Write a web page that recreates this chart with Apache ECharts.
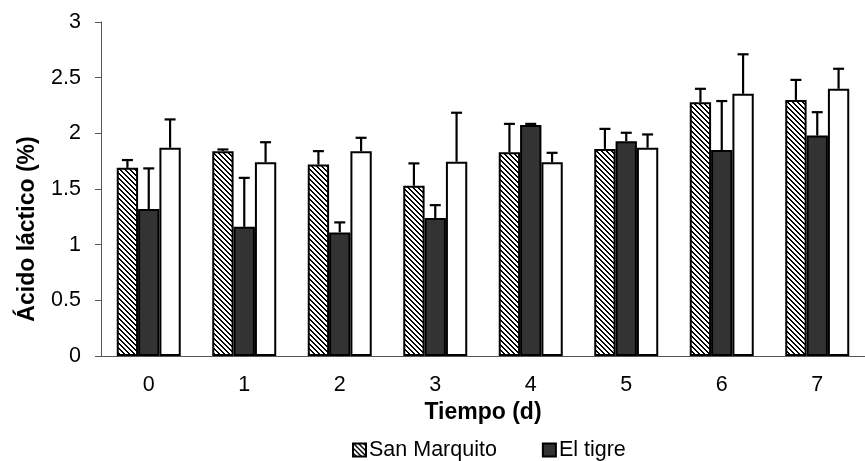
<!DOCTYPE html>
<html>
<head>
<meta charset="utf-8">
<script src="https://cdn.jsdelivr.net/npm/echarts@6/dist/echarts.min.js"></script>
<style>html,body{margin:0;padding:0;background:#fff}#c{width:865px;height:461px}</style>
</head>
<body>
<div id="c"></div>
<script>
const categories = ['0','1','2','3','4','5','6','7'];
const sanMarquito = [1.69, 1.84, 1.72, 1.53, 1.83, 1.86, 2.28, 2.30];
const sanMarquitoErr = [0.07, 0.015, 0.12, 0.20, 0.255, 0.18, 0.12, 0.18];
const elTigre = [1.32, 1.16, 1.11, 1.24, 2.075, 1.93, 1.85, 1.98];
const elTigreErr = [0.365, 0.44, 0.09, 0.115, 0.01, 0.075, 0.44, 0.21];
const serie3 = [1.87, 1.74, 1.84, 1.745, 1.74, 1.87, 2.355, 2.40];
const serie3Err = [0.255, 0.18, 0.12, 0.44, 0.085, 0.12, 0.355, 0.18];
const yTicks = {min: 0, max: 3, interval: 0.5};

// hatch pattern
const P = 5;
const pc = document.createElement('canvas');
pc.width = P; pc.height = P;
const g = pc.getContext('2d');
g.fillStyle = '#fff'; g.fillRect(0,0,P,P);
g.fillStyle = '#000';
for (let i = 0; i < P; i++) { g.fillRect(i, i, 1, 1); g.fillRect((i+1)%P, i, 1, 1); }

const GAP = 0.33;
function errSeries(vals, errs, k) {
  return {
    type: 'custom',
    z: 5,
    silent: true,
    data: vals.map((v, i) => [i, v, errs[i]]),
    renderItem: function (params, api) {
      const x = api.value(0), v = api.value(1), e = api.value(2);
      const base = api.coord([x, v]);
      const top = api.coord([x, v + e]);
      const band = api.size([1, 0])[0];
      const bw = band * (1 - GAP) / 3;
      const cx = base[0] + (k - 1) * bw;
      const st = {stroke: '#000', lineWidth: 2.2};
      return {
        type: 'group',
        children: [
          {type: 'line', shape: {x1: cx, y1: base[1], x2: cx, y2: top[1]}, style: st},
          {type: 'line', shape: {x1: cx - 5.5, y1: top[1], x2: cx + 5.5, y2: top[1]}, style: st}
        ]
      };
    }
  };
}

const font = 'Liberation Sans, Arial, sans-serif';
const chart = echarts.init(document.getElementById('c'));
chart.setOption({
  animation: false,
  backgroundColor: '#fff',
  grid: {left: 101, top: 22, width: 774, height: 334, containLabel: false},
  legend: {
    data: ['San Marquito', 'El tigre'],
    left: 347, top: 434,
    itemWidth: 13, itemHeight: 13, itemGap: 45,
    icon: 'rect',
    textStyle: {fontFamily: font, fontSize: 21.5, color: '#000', padding: [0,0,0,-2]}
  },
  xAxis: {
    type: 'category',
    data: categories,
    name: 'Tiempo (d)',
    nameLocation: 'middle',
    nameGap: 42,
    nameTextStyle: {fontFamily: font, fontSize: 23, fontWeight: 'bold', color: '#000'},
    axisLine: {lineStyle: {color: '#555', width: 1}},
    axisTick: {length: 7, lineStyle: {color: '#555'}},
    axisLabel: {fontFamily: font, fontSize: 21.5, color: '#000', margin: 18}
  },
  yAxis: {
    type: 'value',
    min: yTicks.min, max: yTicks.max, interval: yTicks.interval,
    name: 'Ácido láctico (%)',
    nameLocation: 'middle',
    nameGap: 62,
    nameRotate: 90,
    nameTextStyle: {fontFamily: font, fontSize: 23, fontWeight: 'bold', color: '#000', padding: [0, 80, 0, 0]},
    splitLine: {show: false},
    axisLine: {show: true, lineStyle: {color: '#555', width: 1}},
    axisTick: {show: true, length: 6, lineStyle: {color: '#555'}},
    axisLabel: {fontFamily: font, fontSize: 21.5, color: '#000', margin: 20}
  },
  series: [
    {name: 'San Marquito', type: 'bar', data: sanMarquito, barGap: '0%', barCategoryGap: '33%',
     itemStyle: {color: {image: pc, repeat: 'repeat'}, borderColor: '#000', borderWidth: 2}},
    {name: 'El tigre', type: 'bar', data: elTigre,
     itemStyle: {color: '#333333', borderColor: '#000', borderWidth: 2}},
    {name: 'Serie 3', type: 'bar', data: serie3,
     itemStyle: {color: '#ffffff', borderColor: '#000', borderWidth: 2}},
    errSeries(sanMarquito, sanMarquitoErr, 0),
    errSeries(elTigre, elTigreErr, 1),
    errSeries(serie3, serie3Err, 2)
  ]
});
</script>
</body>
</html>
